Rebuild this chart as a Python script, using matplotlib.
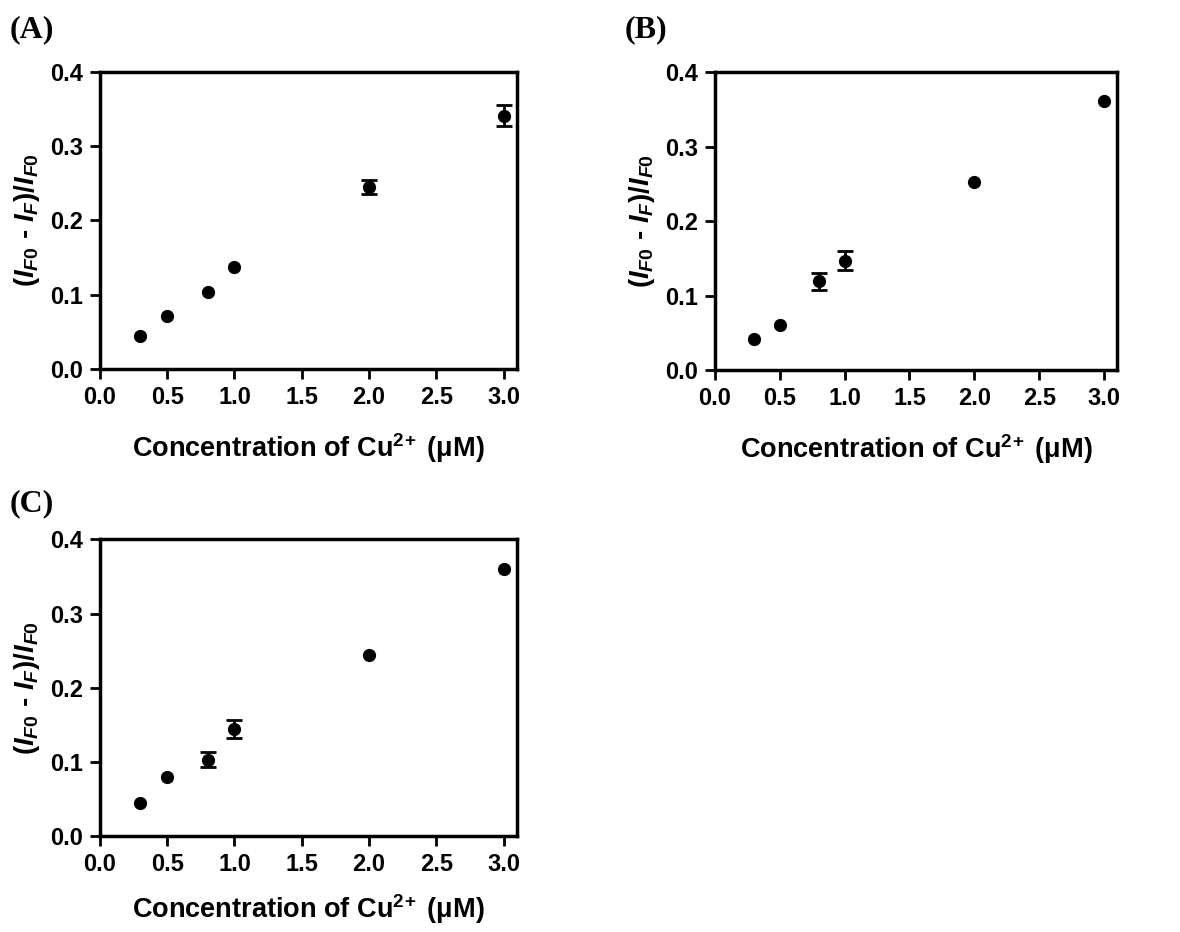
import numpy as np
import matplotlib
matplotlib.use('Agg')
import matplotlib.pyplot as plt

plt.rcParams['font.family'] = ['Liberation Sans', 'DejaVu Sans']
plt.rcParams['font.weight'] = 'bold'
plt.rcParams['axes.labelweight'] = 'bold'
plt.rcParams['mathtext.fontset'] = 'custom'
plt.rcParams['mathtext.rm'] = 'Liberation Sans:bold'
plt.rcParams['mathtext.bf'] = 'Liberation Sans:bold'
plt.rcParams['mathtext.it'] = 'Liberation Sans:bold:italic'

# concentrations (uM)
conc = np.array([0.3, 0.5, 0.8, 1.0, 2.0, 3.0])

# panel A
yA = np.array([0.044, 0.071, 0.104, 0.138, 0.245, 0.341])
eA = np.array([0.0, 0.0, 0.0, 0.0, 0.010, 0.014])
# panel B
yB = np.array([0.042, 0.060, 0.119, 0.147, 0.252, 0.361])
eB = np.array([0.0, 0.0, 0.011, 0.013, 0.0, 0.0])
# panel C
yC = np.array([0.044, 0.079, 0.103, 0.144, 0.244, 0.360])
eC = np.array([0.0, 0.0, 0.010, 0.012, 0.0, 0.0])

panels = ['(A)', '(B)', '(C)']
xticks = [0.0, 0.5, 1.0, 1.5, 2.0, 2.5, 3.0]
yticks = [0.0, 0.1, 0.2, 0.3, 0.4]

fig = plt.figure(figsize=(11.8, 9.32), dpi=100)

boxes = [[0.0847, 0.6041, 0.3534, 0.3187],
         [0.6059, 0.6030, 0.3407, 0.3197],
         [0.0847, 0.1030, 0.3534, 0.3183]]
label_pos = [(0.008, 0.968), (0.529, 0.968), (0.008, 0.459)]
xpads = [16, 16, 12]

for box, ys, es, name, lp, xp in zip(boxes, [yA, yB, yC], [eA, eB, eC], panels, label_pos, xpads):
    ax = fig.add_axes(box)
    ax.plot(conc, ys, 'o', color='black', ms=8.5)
    m = es > 0
    ax.errorbar(conc[m], ys[m], yerr=es[m], fmt='none', ecolor='black',
                elinewidth=2, capsize=5.5, capthick=2)
    ax.set_xlim(0, 3.1)
    ax.set_ylim(0, 0.4)
    ax.set_xticks(xticks)
    ax.set_yticks(yticks)
    ax.set_xticklabels(['%.1f' % t for t in xticks])
    ax.set_yticklabels(['%.1f' % t for t in yticks])
    for s in ax.spines.values():
        s.set_linewidth(2.5)
    ax.tick_params(direction='out', length=7, width=2, labelsize=17, pad=5)
    ax.set_xlabel(r'Concentration of Cu$^{2\!+}$ (μM)', fontsize=19.5, labelpad=xp)
    ax.set_ylabel('($I_{F0}$ - $I_F$)/$I_{F0}$', fontsize=20, labelpad=6)
    fig.text(lp[0], lp[1], name, family='Liberation Serif', weight='bold',
             fontsize=23, va='center', ha='left')

plt.savefig('out.png', dpi=100)
